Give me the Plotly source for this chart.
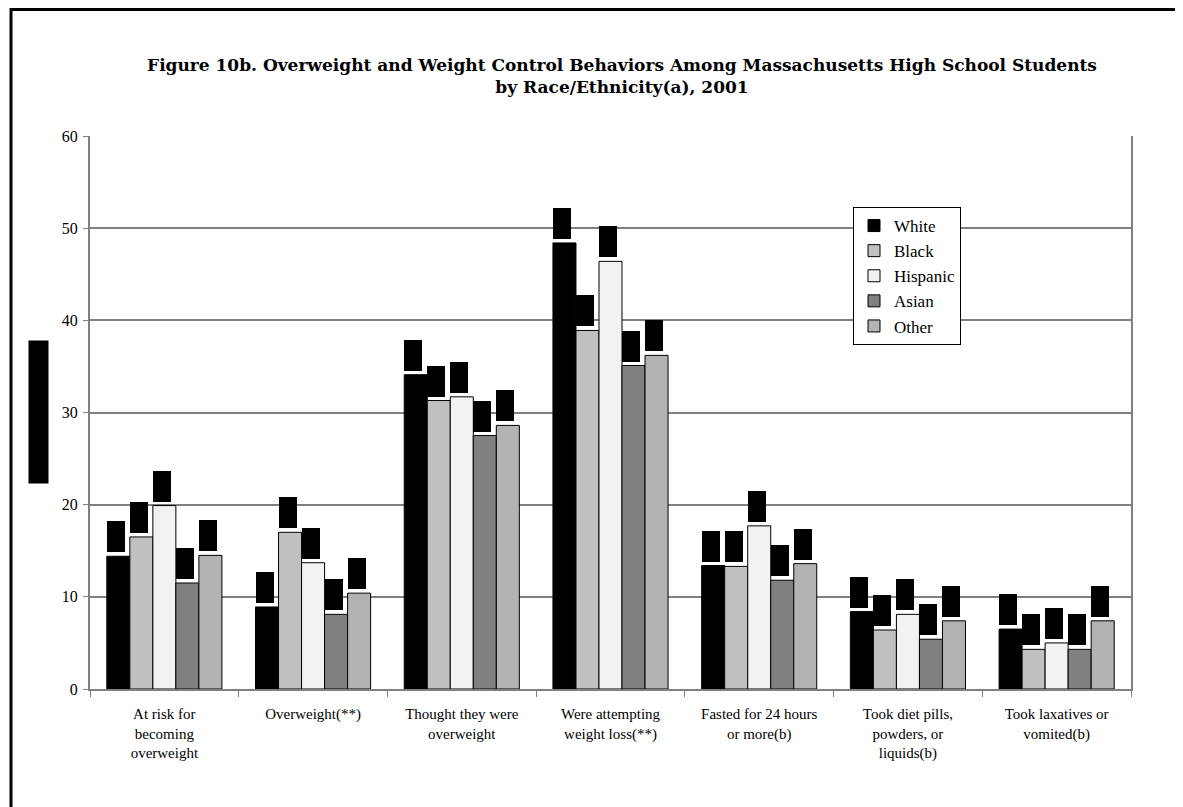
import plotly.graph_objects as go

categories = [
    "At risk for<br>becoming<br>overweight",
    "Overweight(**)",
    "Thought they were<br>overweight",
    "Were attempting<br>weight loss(**)",
    "Fasted for 24 hours<br>or more(b)",
    "Took diet pills,<br>powders, or<br>liquids(b)",
    "Took laxatives or<br>vomited(b)",
]

white = [14.4, 8.9, 34.1, 48.4, 13.4, 8.4, 6.5]
black = [16.5, 17.0, 31.3, 38.9, 13.3, 6.4, 4.3]
hispanic = [19.9, 13.7, 31.7, 46.4, 17.7, 8.1, 5.0]
asian = [11.5, 8.1, 27.5, 35.1, 11.8, 5.4, 4.3]
other = [14.5, 10.4, 28.6, 36.2, 13.6, 7.4, 7.4]

series = [
    ("White", white, "#000000"),
    ("Black", black, "#c0c0c0"),
    ("Hispanic", hispanic, "#f2f2f2"),
    ("Asian", asian, "#808080"),
    ("Other", other, "#b2b2b2"),
]

# page has an 8px body margin, so the figure is laid out 8px up/left
W, H = 1183, 807
ML, MT = 82, 128
plot_w, plot_h = 1041, 553
MR = W - ML - plot_w
MB = H - MT - plot_h
bargap = 0.226
serif = "Liberation Serif, Times New Roman, serif"

fig = go.Figure()
for name, vals, col in series:
    fig.add_trace(go.Bar(
        x=categories, y=vals, name=name, legendgroup=name,
        marker=dict(color=col, line=dict(color="#000000", width=1)),
    ))

# black value-label boxes above every bar
bar_w = plot_w / len(categories) * (1 - bargap) / len(series)
annotations = []
for i, (name, vals, col) in enumerate(series):
    for cat, v in zip(categories, vals):
        annotations.append(dict(
            x=cat, y=v, xref="x", yref="y", text=f"{v}",
            showarrow=False, xanchor="left", yanchor="bottom",
            xshift=(i - 2) * bar_w - bar_w / 2, yshift=4,
            width=18, height=31, bgcolor="#000000",
            borderpad=0, borderwidth=0,
            font=dict(family=serif, size=8, color="#000000"),
        ))

# y-axis title box
annotations.append(dict(
    x=-(ML - 30.5) / plot_w, y=0.5, xref="paper", yref="paper",
    text="Percent", textangle=-90, showarrow=False,
    xanchor="center", yanchor="middle",
    width=142, height=19, bgcolor="#000000", borderpad=0,
    font=dict(family=serif, size=12, color="#000000"),
))

fig.update_layout(
    width=W, height=H,
    margin=dict(l=ML, r=MR, t=MT, b=MB),
    paper_bgcolor="white", plot_bgcolor="white",
    barmode="group", bargap=bargap, bargroupgap=0,
    font=dict(family=serif, size=15, color="#000000"),
    title=dict(
        text="Figure 10b. Overweight and Weight Control Behaviors Among Massachusetts High School Students"
             "<br>by Race/Ethnicity(a), 2001",
        x=(614 - ML) / plot_w, xref="paper", xanchor="center",
        y=1 - 63 / H, yanchor="top",
        font=dict(family="DejaVu Serif", size=17, color="#000000", weight="bold"),
    ),
    annotations=annotations,
    legend=dict(
        x=(845 - ML) / plot_w, y=(MT + plot_h - 199) / plot_h,
        xanchor="left", yanchor="top",
        bgcolor="white", bordercolor="#000000", borderwidth=1,
        font=dict(family=serif, size=17, color="#000000"),
        tracegroupgap=0, itemwidth=30,
    ),
    showlegend=True,
    shapes=[
        dict(type="line", xref="paper", yref="y", x0=0, x1=1, y0=10, y1=10,
             line=dict(color="#000000", width=1), layer="below"),
        dict(type="line", xref="paper", yref="paper",
             x0=-(ML - 3) / plot_w, x1=-(ML - 3) / plot_w,
             y0=1 + MT / plot_h, y1=-(MB + 20) / plot_h,
             line=dict(color="#000000", width=3)),
        dict(type="line", xref="paper", yref="paper",
             x0=-(ML - 3) / plot_w, x1=1 + (MR + 20) / plot_w,
             y0=1 + (MT - 1.5) / plot_h, y1=1 + (MT - 1.5) / plot_h,
             line=dict(color="#000000", width=3)),
    ],
)

fig.update_yaxes(
    range=[0, 60], dtick=10, showgrid=True, gridcolor="#808080", gridwidth=2,
    showline=True, linecolor="#808080", linewidth=2, mirror=True,
    ticks="outside", ticklen=5, tickcolor="#808080", zeroline=False,
    tickfont=dict(family=serif, size=16), ticklabelstandoff=2,
)
fig.update_xaxes(
    showline=True, linecolor="#808080", linewidth=2,
    ticks="outside", tickson="boundaries", ticklen=6, tickcolor="#808080",
    tickfont=dict(family=serif, size=15), tickangle=0, ticklabelstandoff=10,
)

fig.write_html("out.html")
